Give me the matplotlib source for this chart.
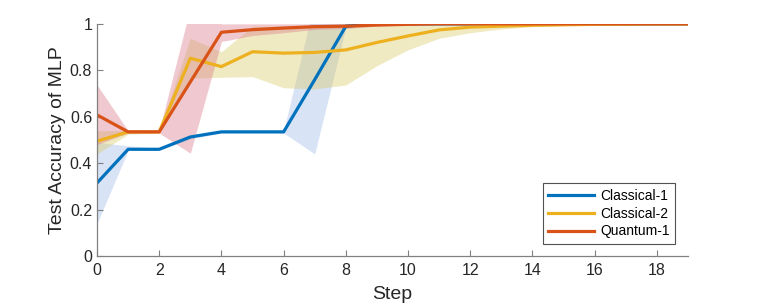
import numpy as np
import matplotlib
matplotlib.use("Agg")
from matplotlib import pyplot as plt

plt.rcParams['font.family'] = ['Liberation Sans', 'DejaVu Sans']

steps = list(range(20))

# Classical-1
c1_mean = [0.315, 0.46, 0.46, 0.513, 0.535, 0.535, 0.535, 0.76, 0.99, 1.0,
           1.0, 1.0, 1.0, 1.0, 1.0, 1.0, 1.0, 1.0, 1.0, 1.0]
c1_low = [0.14, 0.455, 0.455, 0.505, 0.53, 0.53, 0.53, 0.44, 0.985, 1.0,
          1.0, 1.0, 1.0, 1.0, 1.0, 1.0, 1.0, 1.0, 1.0, 1.0]
c1_high = [0.49, 0.475, 0.465, 0.52, 0.54, 0.54, 0.54, 1.1, 1.0, 1.0,
           1.0, 1.0, 1.0, 1.0, 1.0, 1.0, 1.0, 1.0, 1.0, 1.0]

# Classical-2
c2_mean = [0.495, 0.535, 0.535, 0.852, 0.816, 0.88, 0.874, 0.877, 0.888, 0.92,
           0.948, 0.974, 0.986, 0.99, 0.994, 0.996, 0.998, 0.999, 1.0, 1.0]
c2_low = [0.44, 0.525, 0.53, 0.766, 0.77, 0.773, 0.725, 0.72, 0.737, 0.82,
          0.888, 0.938, 0.962, 0.978, 0.988, 0.993, 0.996, 0.998, 0.999, 1.0]
c2_high = [0.54, 0.54, 0.54, 0.938, 0.88, 0.99, 0.99, 0.995, 1.0, 1.0,
           1.0, 1.0, 1.0, 1.0, 1.0, 1.0, 1.0, 1.0, 1.0, 1.0]

# Quantum-1
q1_mean = [0.608, 0.535, 0.535, 0.75, 0.964, 0.975, 0.982, 0.988, 0.99, 0.995,
           0.998, 1.0, 1.0, 1.0, 1.0, 1.0, 1.0, 1.0, 1.0, 1.0]
q1_low = [0.48, 0.53, 0.53, 0.443, 0.924, 0.95, 0.962, 0.976, 0.98, 0.99,
          0.995, 0.998, 1.0, 1.0, 1.0, 1.0, 1.0, 1.0, 1.0, 1.0]
q1_high = [0.737, 0.54, 0.54, 1.07, 1.0, 1.0, 1.0, 1.0, 1.0, 1.0,
           1.0, 1.0, 1.0, 1.0, 1.0, 1.0, 1.0, 1.0, 1.0, 1.0]

fig = plt.figure(figsize=(7.61, 3.06), dpi=100)
ax = fig.add_axes([0.1275, 0.163, 0.7765, 0.759])

ax.fill_between(steps, c1_low, c1_high, color='#b4c8ee', alpha=0.5, lw=0)
ax.plot(steps, c1_mean, color='#0072BD', lw=2.3, label='Classical-1')
ax.fill_between(steps, c2_low, c2_high, color='#d8c860', alpha=0.38, lw=0)
ax.plot(steps, c2_mean, color='#EDB120', lw=2.3, label='Classical-2')
ax.fill_between(steps, q1_low, q1_high, color='#d87888', alpha=0.4, lw=0)
ax.plot(steps, q1_mean, color='#D95319', lw=2.3, label='Quantum-1')

ax.set_xlim(0, 19)
ax.set_ylim(0, 1)
ax.set_xticks(range(0, 19, 2))
ax.set_yticks([0, 0.2, 0.4, 0.6, 0.8, 1])
ax.set_yticklabels(['0', '0.2', '0.4', '0.6', '0.8', '1'])
ax.tick_params(direction='in', length=4, width=0.8, colors='#808080',
               labelcolor='#262626', labelsize=11.5)
ax.tick_params(axis='x', pad=5)
ax.spines['top'].set_visible(False)
ax.spines['right'].set_visible(False)
for s in ['left', 'bottom']:
    ax.spines[s].set_color('#808080')
    ax.spines[s].set_linewidth(0.9)

ax.set_xlabel('Step', fontsize=14, color='#262626', labelpad=6)
ax.set_ylabel('Test Accuracy of MLP', fontsize=14, color='#262626', labelpad=3)

leg = ax.legend(loc='lower right', bbox_to_anchor=(0.978, 0.052), fontsize=10,
                frameon=True, fancybox=False, edgecolor='#262626',
                borderpad=0.4, labelspacing=0.28, handlelength=3.3,
                handletextpad=0.4, borderaxespad=0)
leg.get_frame().set_linewidth(0.8)

fig.savefig('out.png', dpi=100)
